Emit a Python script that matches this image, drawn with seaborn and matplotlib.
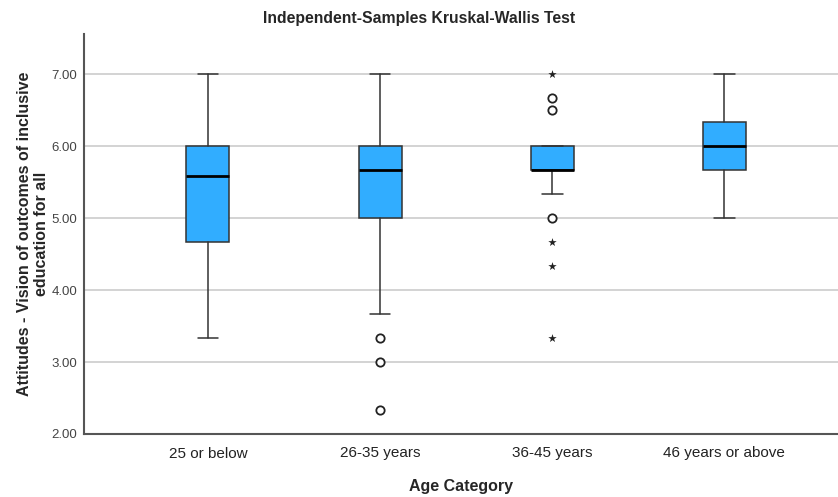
import numpy as np
import pandas as pd
import matplotlib
matplotlib.use("Agg")
import matplotlib.pyplot as plt
import seaborn as sns

# summary values
categorias = ["25 or below", "26-35 years", "36-45 years", "46 years or above"]
whisker_baixo = [3.333, 3.667, 5.333, 5.0]
q1 = [4.667, 5.0, 5.667, 5.667]
mediana = [5.583, 5.667, 5.667, 6.0]
q3 = [6.0, 6.0, 6.0, 6.333]
whisker_alto = [7.0, 7.0, 6.0, 7.0]

# outliers (circles) and extremes (stars)
outlier_grupo = [1, 1, 1, 2, 2, 2]
outlier_valor = [3.333, 3.0, 2.333, 6.667, 6.5, 5.0]
extremo_grupo = [2, 2, 2, 2]
extremo_valor = [7.0, 4.667, 4.333, 3.333]

sns.set_style("white")
plt.rcParams["font.family"] = ["Liberation Sans", "DejaVu Sans"]

fig = plt.figure(figsize=(8.38, 4.97), dpi=100)
ax = fig.add_axes([84 / 838, 1 - 434 / 497, (838 - 84) / 838, (434 - 34) / 497])

stats = []
for i, cat in enumerate(categorias):
    stats.append({
        "label": cat,
        "whislo": whisker_baixo[i],
        "q1": q1[i],
        "med": mediana[i],
        "q3": q3[i],
        "whishi": whisker_alto[i],
        "fliers": [],
    })

ax.bxp(
    stats,
    positions=range(len(categorias)),
    widths=0.25,
    patch_artist=True,
    showfliers=False,
    boxprops=dict(facecolor="#31adff", edgecolor="#333333", linewidth=1.1),
    medianprops=dict(color="black", linewidth=2),
    whiskerprops=dict(color="#333333", linewidth=1.1),
    capprops=dict(color="#333333", linewidth=1.1),
    capwidths=0.12,
    zorder=3,
)

df_out = pd.DataFrame({"grupo": outlier_grupo, "valor": outlier_valor})
df_ext = pd.DataFrame({"grupo": extremo_grupo, "valor": extremo_valor})
sns.scatterplot(data=df_out, x="grupo", y="valor", ax=ax, marker="o", s=36,
                facecolor="white", edgecolor="#222222", linewidth=1.3, zorder=4)
sns.scatterplot(data=df_ext, x="grupo", y="valor", ax=ax, marker="*", s=40,
                color="#222222", linewidth=0, zorder=4)

ax.set_xlim(-0.72, 3.66)
ax.set_ylim(2.0, 7.556)
ax.set_yticks([2, 3, 4, 5, 6, 7])
ax.set_yticklabels([f"{v:.2f}" for v in [2, 3, 4, 5, 6, 7]], fontsize=9.5, color="#444444")
ax.set_xticks(range(len(categorias)))
ax.set_xticklabels(categorias, fontsize=11, color="#222222")
ax.tick_params(axis="both", length=0)
ax.tick_params(axis="x", pad=9)
ax.tick_params(axis="y", pad=5)

ax.yaxis.grid(True, color="#c8c8c8", linewidth=1.1, zorder=0)
ax.set_axisbelow(True)
for lado in ["top", "right"]:
    ax.spines[lado].set_visible(False)
for lado in ["left", "bottom"]:
    ax.spines[lado].set_color("#555555")
    ax.spines[lado].set_linewidth(1.5)

ax.set_xlabel("Age Category", fontsize=11.5, fontweight="bold", labelpad=13)
ax.set_ylabel("Attitudes - Vision of outcomes of inclusive\neducation for all",
              fontsize=11.5, fontweight="bold", linespacing=1.1)
ax.yaxis.set_label_coords(-0.047, 0.5)
fig.text(0.5, 1 - 18 / 497, "Independent-Samples Kruskal-Wallis Test",
         ha="center", va="center", fontsize=11.3, fontweight="bold")

fig.savefig("out.png", dpi=100)
